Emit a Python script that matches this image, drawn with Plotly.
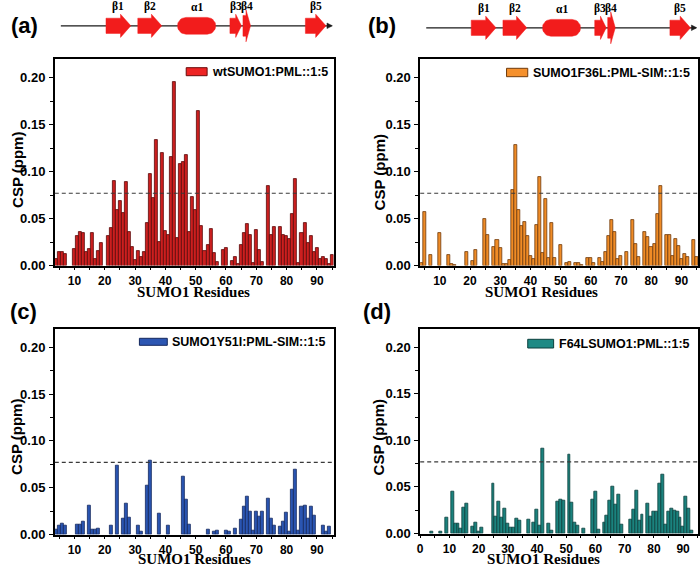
import numpy as np
import plotly.graph_objects as go

W, H = 700, 567
H_EFF = 559  # vertical pixel scale observed in the rendered page

# ---------------- data ----------------
A_RES = [4, 5, 6, 7, 10, 11, 12, 13, 14, 15, 16, 17, 18, 19, 21, 22, 23, 24, 25, 26, 27, 28, 29, 30,
         31, 32, 33, 34, 35, 36, 37, 38, 39, 40, 41, 42, 43, 44, 45, 46, 47, 48, 49, 50, 51, 52, 53,
         54, 55, 56, 57, 59, 60, 62, 63, 64, 65, 66, 67, 68, 69, 70, 71, 72, 74, 75, 76, 78, 79, 80,
         81, 82, 83, 84, 85, 86, 87, 88, 89, 90, 91, 92, 93, 94, 95]
A_CSP = [0.007, 0.014, 0.014, 0.012, 0.018, 0.031, 0.036, 0.035, 0.014, 0.018, 0.035, 0.007, 0.015,
         0.024, 0.031, 0.040, 0.090, 0.059, 0.069, 0.056, 0.089, 0.036, 0.020, 0.006, 0.015, 0.009,
         0.014, 0.045, 0.098, 0.072, 0.134, 0.025, 0.120, 0.037, 0.033, 0.116, 0.195, 0.029, 0.108,
         0.110, 0.118, 0.036, 0.073, 0.059, 0.165, 0.042, 0.015, 0.022, 0.039, 0.013, 0.004, 0.016,
         0.019, 0.005, 0.009, 0.002, 0.022, 0.035, 0.044, 0.032, 0.003, 0.038, 0.016, 0.004, 0.085,
         0.032, 0.041, 0.041, 0.032, 0.031, 0.028, 0.055, 0.092, 0.003, 0.035, 0.045, 0.024, 0.031,
         0.014, 0.019, 0.007, 0.009, 0.007, 0.002, 0.011]

B_RES = [4, 5, 7, 10, 13, 14, 15, 19, 21, 22, 25, 26, 28, 29, 30, 31, 32, 33, 34, 35, 36, 37, 38, 39,
         40, 41, 42, 43, 44, 45, 46, 47, 48, 50, 52, 53, 55, 56, 57, 59, 60, 61, 63, 64, 65, 66, 67,
         68, 69, 70, 72, 74, 75, 76, 78, 79, 80, 81, 82, 83, 85, 86, 87, 88, 89, 90, 91, 92, 94, 95]
B_CSP = [0.003, 0.057, 0.011, 0.035, 0.011, 0.002, 0.001, 0.014, 0.005, 0.016, 0.050, 0.033, 0.020,
         0.027, 0.019, 0.002, 0.002, 0.006, 0.080, 0.128, 0.059, 0.042, 0.046, 0.031, 0.010, 0.007,
         0.043, 0.094, 0.013, 0.071, 0.008, 0.045, 0.008, 0.022, 0.003, 0.004, 0.003, 0.003, 0.001,
         0.008, 0.008, 0.003, 0.008, 0.004, 0.014, 0.031, 0.048, 0.036, 0.007, 0.010, 0.014, 0.048,
         0.023, 0.009, 0.036, 0.030, 0.020, 0.023, 0.055, 0.085, 0.032, 0.033, 0.010, 0.028, 0.021,
         0.007, 0.012, 0.009, 0.027, 0.009]

C_RES = [4, 5, 6, 7, 11, 12, 13, 15, 16, 17, 18, 22, 24, 26, 27, 28, 31, 32, 34, 35, 38, 41, 46, 47,
         48, 54, 56, 57, 60, 61, 63, 65, 66, 67, 68, 69, 70, 71, 72, 74, 75, 76, 78, 79, 80, 81, 82,
         83, 84, 85, 86, 87, 88, 89, 92, 93, 94]
C_CSP = [0.005, 0.009, 0.012, 0.010, 0.011, 0.011, 0.014, 0.031, 0.005, 0.005, 0.006, 0.010, 0.074,
         0.017, 0.033, 0.018, 0.009, 0.003, 0.052, 0.079, 0.022, 0.009, 0.062, 0.037, 0.011, 0.005,
         0.003, 0.004, 0.004, 0.003, 0.006, 0.016, 0.030, 0.040, 0.025, 0.004, 0.025, 0.019, 0.025,
         0.038, 0.017, 0.010, 0.008, 0.014, 0.023, 0.003, 0.048, 0.069, 0.004, 0.030, 0.031, 0.017,
         0.030, 0.020, 0.009, 0.003, 0.008]

D_RES = [4, 7, 9, 11, 12, 13, 14, 15, 16, 18, 19, 20, 21, 25, 26, 27, 28, 29, 30, 31, 32, 33, 34, 37,
         39, 40, 41, 42, 44, 45, 47, 48, 49, 51, 52, 53, 54, 56, 59, 60, 61, 63, 64, 65, 66, 67, 68,
         69, 72, 73, 74, 75, 76, 78, 79, 80, 81, 82, 83, 84, 85, 86, 87, 88, 89, 90, 91, 92, 93]
D_CSP = [0.002, 0.002, 0.017, 0.045, 0.011, 0.011, 0.005, 0.028, 0.032, 0.007, 0.012, 0.002, 0.006,
         0.054, 0.018, 0.034, 0.017, 0.027, 0.011, 0.006, 0.006, 0.016, 0.014, 0.015, 0.012, 0.026,
         0.008, 0.091, 0.011, 0.003, 0.034, 0.036, 0.035, 0.085, 0.033, 0.012, 0.009, 0.005, 0.036,
         0.045, 0.004, 0.012, 0.019, 0.035, 0.050, 0.031, 0.042, 0.010, 0.015, 0.026, 0.046, 0.014,
         0.020, 0.032, 0.018, 0.023, 0.023, 0.054, 0.063, 0.010, 0.023, 0.027, 0.025, 0.023, 0.017,
         0.007, 0.040, 0.027, 0.003]

SERIES_NAMES = ["wtSUMO1:PML::1:5", "SUMO1F36L:PML-SIM::1:5",
                "SUMO1Y51I:PML-SIM::1:5", "F64LSUMO1:PML::1:5"]
PANEL_TAGS = ["(a)", "(b)", "(c)", "(d)"]
THRESHOLD = 0.077

X_TICKS_ABC = [10, 20, 30, 40, 50, 60, 70, 80, 90]
X_TICKS_D = [0, 10, 20, 30, 40, 50, 60, 70, 80, 90]
Y_TICKS = [0.00, 0.05, 0.10, 0.15, 0.20]
Y_TICK_TEXT = ["0.00", "0.05", "0.10", "0.15", "0.20"]
X_TITLE = "SUMO1 Residues"
Y_TITLE = "CSP (ppm)"

# secondary structure of SUMO1 (residue ranges)
SS_NAMES = ["β1", "β2", "α1", "β3", "β4", "β5"]
SS_START = [20.4, 30.9, 44.0, 61.3, 65.6, 86.2]
SS_END = [28.6, 38.8, 56.6, 65.1, 68.1, 93.0]
SS_KIND = ["E", "E", "H", "E", "E", "E"]
SS_SPAN = [5.5, 94.8]

# ---------------- layout helpers ----------------
SANS = "Liberation Sans, Arial, sans-serif"
SERIF = "Liberation Serif, Times New Roman, serif"


def px_to_x(p):
    return p / W


def px_to_y(p):
    return 1 - p / H_EFF


def xdom(p0, p1):
    return [px_to_x(p0), px_to_x(p1)]


def ydom(top, bottom):
    return [px_to_y(bottom), px_to_y(top)]


panels = [
    dict(res=A_RES, csp=A_CSP, fill="#CC1F1F", edge="#5A0A0A", sw="#EE2424", swedge="#6A0A0A",
         xpx=(52, 332), ypx=(59, 265.5), xr=[3.5, 95.5], ticks=X_TICKS_ABC,
         sw_box=(184, 205, 67.7, 75.7), tag_xy=(21.5, 26), ytitle_xy=(14, 170),
         xtitle_xy=(191, 291.5)),
    dict(res=B_RES, csp=B_CSP, fill="#F08C26", edge="#6E3A0C", sw="#F5902C", swedge="#6E3A0C",
         xpx=(419, 698), ypx=(59, 265.5), xr=[3.5, 95.5], ticks=X_TICKS_ABC,
         sw_box=(505.7, 527, 68.3, 76.7), tag_xy=(381, 26), ytitle_xy=(378, 172),
         xtitle_xy=(541, 291.5)),
    dict(res=C_RES, csp=C_CSP, fill="#2A55B2", edge="#14285E", sw="#2C56B2", swedge="#14285E",
         xpx=(52, 332), ypx=(328.6, 534.5), xr=[3.5, 95.5], ticks=X_TICKS_ABC,
         sw_box=(137, 165, 338.3, 345.3), tag_xy=(21, 311), ytitle_xy=(13, 437),
         xtitle_xy=(192, 558.5)),
    dict(res=D_RES, csp=D_CSP, fill="#1B827E", edge="#0B3F3D", sw="#1E8A85", swedge="#0B3F3D",
         xpx=(419, 698), ypx=(328.6, 533.5), xr=[0, 95.1], ticks=X_TICKS_D,
         sw_box=(527, 553, 339.3, 348.0), tag_xy=(376, 311), ytitle_xy=(377, 437),
         xtitle_xy=(543, 558.5)),
]

fig = go.Figure()
annotations = []
shapes = []
layout_axes = {}

for i, p in enumerate(panels):
    n = i + 1
    xa = "x" if n == 1 else f"x{n}"
    ya = "y" if n == 1 else f"y{n}"
    fig.add_trace(go.Bar(
        x=p["res"], y=p["csp"], width=1.0, xaxis=xa, yaxis=ya,
        marker=dict(color=p["fill"], line=dict(color=p["edge"], width=0.8)),
        name=SERIES_NAMES[i], showlegend=False,
    ))
    common = dict(showline=True, linecolor="black", linewidth=1.6, mirror=True,
                  ticks="outside", tickcolor="black", tickwidth=1.3,
                  showgrid=False, zeroline=False)
    layout_axes["xaxis" if n == 1 else f"xaxis{n}"] = dict(
        domain=xdom(*p["xpx"]), range=p["xr"], anchor=ya, tickmode="array",
        tickvals=p["ticks"], ticktext=[str(t) for t in p["ticks"]], ticklen=3,
        tickfont=dict(family=SANS, size=12, color="black", weight="bold"),
        minor=dict(dtick=5, tick0=0, ticks="outside", ticklen=2.5, tickcolor="black", tickwidth=1),
        ticklabelstandoff=0, **common)
    layout_axes["yaxis" if n == 1 else f"yaxis{n}"] = dict(
        domain=ydom(*p["ypx"]), range=[0, 0.22], anchor=xa, tickmode="array",
        tickvals=Y_TICKS, ticktext=Y_TICK_TEXT, ticklen=4,
        tickfont=dict(family=SANS, size=13, color="black", weight="bold"),
        minor=dict(dtick=0.025, tick0=0, ticks="outside", ticklen=3, tickcolor="black", tickwidth=1),
        ticklabelstandoff=1, **common)
    # threshold line
    shapes.append(dict(type="line", xref=f"{xa} domain", yref=ya, x0=0, x1=1,
                       y0=THRESHOLD, y1=THRESHOLD,
                       line=dict(color="#3a3a3a", width=1.2, dash="4px,3px")))
    # legend swatch + label
    x0, x1, y0, y1 = p["sw_box"]
    shapes.append(dict(type="rect", xref="paper", yref="paper", x0=px_to_x(x0), x1=px_to_x(x1),
                       y0=px_to_y(y1), y1=px_to_y(y0), fillcolor=p["sw"],
                       line=dict(color=p["swedge"], width=1)))
    annotations.append(dict(text=SERIES_NAMES[i], xref="paper", yref="paper",
                            x=px_to_x(x1 + 3), y=px_to_y((y0 + y1) / 2), xanchor="left",
                            yanchor="middle", showarrow=False,
                            font=dict(family=SANS, size=12.5, color="black", weight="bold")))
    # panel tag
    tx, ty = p["tag_xy"]
    annotations.append(dict(text=PANEL_TAGS[i], xref="paper", yref="paper", x=px_to_x(tx),
                            y=px_to_y(ty), xanchor="center", yanchor="middle", showarrow=False,
                            font=dict(family=SANS, size=22, color="black", weight="bold")))
    # axis titles
    tx, ty = p["ytitle_xy"]
    annotations.append(dict(text=Y_TITLE, xref="paper", yref="paper", x=px_to_x(tx), y=px_to_y(ty),
                            xanchor="center", yanchor="middle", showarrow=False, textangle=-90,
                            font=dict(family=SANS, size=15, color="black", weight="bold")))
    tx, ty = p["xtitle_xy"]
    annotations.append(dict(text=X_TITLE, xref="paper", yref="paper", x=px_to_x(tx), y=px_to_y(ty),
                            xanchor="center", yanchor="middle", showarrow=False,
                            font=dict(family=SERIF, size=15, color="black", weight="bold")))

# ---------------- secondary-structure diagrams above (a) and (b) ----------------
SS_RED = "#F21C1C"
CENTER = 0.48
BODY_H, HEAD_H, HELIX_H = 0.19, 0.29, 0.21
diagrams = [dict(panel=0, ypx=(5, 45), n=5), dict(panel=1, ypx=(7, 47), n=6)]
for d in diagrams:
    p = panels[d["panel"]]
    n = d["n"]
    xa, ya = f"x{n}", f"y{n}"
    layout_axes[f"xaxis{n}"] = dict(domain=xdom(*p["xpx"]), range=p["xr"], anchor=ya, visible=False,
                                    fixedrange=True)
    layout_axes[f"yaxis{n}"] = dict(domain=ydom(*d["ypx"]), range=[0, 1], anchor=xa, visible=False,
                                    fixedrange=True)
    px_per_res = (p["xpx"][1] - p["xpx"][0]) / (p["xr"][1] - p["xr"][0])
    # backbone line with arrow tip
    fig.add_trace(go.Scatter(x=SS_SPAN, y=[CENTER, CENTER], mode="lines", xaxis=xa, yaxis=ya,
                             line=dict(color="#1a1a1a", width=1.3), showlegend=False, hoverinfo="skip"))
    tip = SS_SPAN[1]
    hl = 4.5 / px_per_res
    fig.add_trace(go.Scatter(x=[tip - hl, tip + 0.3, tip - hl, tip - hl],
                             y=[CENTER + 0.07, CENTER, CENTER - 0.07, CENTER + 0.07],
                             mode="lines", fill="toself", fillcolor="#1a1a1a",
                             line=dict(color="#1a1a1a", width=0.5), xaxis=xa, yaxis=ya,
                             showlegend=False, hoverinfo="skip"))
    for name, s, e, kind in zip(SS_NAMES, SS_START, SS_END, SS_KIND):
        if kind == "E":
            length = e - s
            if length < 3:
                hh, hb, hlen = 0.40, 0.26, 0.6 * length
            else:
                hh, hb, hlen = HEAD_H, BODY_H, min(3.4, 0.5 * length)
            xs = [s, e - hlen, e - hlen, e, e - hlen, e - hlen, s, s]
            ys = [CENTER - hb, CENTER - hb, CENTER - hh, CENTER, CENTER + hh, CENTER + hb,
                  CENTER + hb, CENTER - hb]
        else:
            r_x = 8.5 / px_per_res
            t = np.linspace(-np.pi / 2, np.pi / 2, 20)
            right_x = (e - r_x) + r_x * np.cos(t)
            right_y = CENTER + HELIX_H * np.sin(t)
            left_x = (s + r_x) - r_x * np.cos(t[::-1])
            left_y = CENTER + HELIX_H * np.sin(t[::-1])
            xs = list(right_x) + list(left_x) + [right_x[0]]
            ys = list(right_y) + list(left_y) + [right_y[0]]
        fig.add_trace(go.Scatter(x=xs, y=ys, mode="lines", fill="toself", fillcolor=SS_RED,
                                 line=dict(color=SS_RED, width=0.5), xaxis=xa, yaxis=ya,
                                 showlegend=False, hoverinfo="skip"))
        annotations.append(dict(text=name, xref=xa, yref=ya, x=(s + e) / 2, y=0.95,
                                xanchor="center", yanchor="middle", showarrow=False,
                                font=dict(family=SERIF, size=11.5, color="black", weight="bold")))

fig.update_layout(
    width=W, height=H, margin=dict(l=0, r=0, t=0, b=0),
    paper_bgcolor="white", plot_bgcolor="white", bargap=0,
    showlegend=False, annotations=annotations, shapes=shapes, **layout_axes,
)

fig.write_html("out.html", config={"displayModeBar": False},
               post_script="document.body.style.margin='0px';"
                           "document.body.style.padding='0px';"
                           "document.body.style.overflow='hidden';")
